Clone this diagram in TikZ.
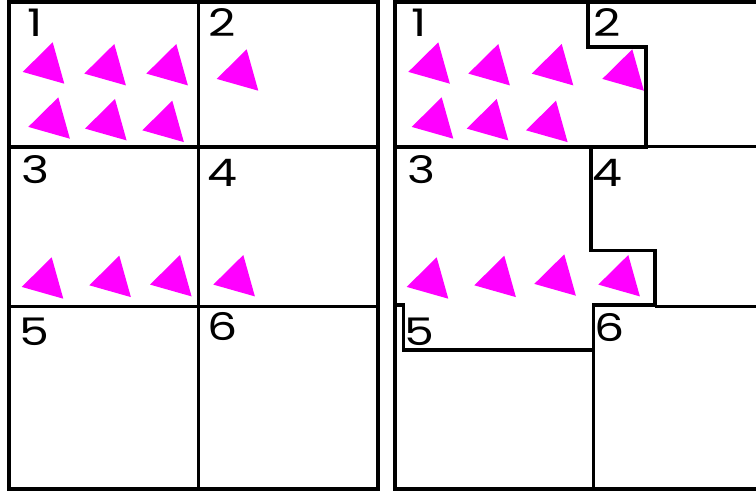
\documentclass[tikz,border=0pt]{standalone}
\usepackage{fontspec}
\newfontfamily\labfont{Poppins}
\definecolor{mag}{HTML}{FF00FF}
\tikzset{
  outerln/.style={line width=4pt, line cap=rect, line join=miter},
  innerln/.style={line width=3.5pt, line join=miter},
  thinln/.style={line width=3pt},
  lab/.style={anchor=base west, inner sep=0pt, font=\labfont\fontsize{38}{38}\selectfont, xscale=1.25, text=black},
}
\newcommand{\tri}[2]{\fill[mag] (#1,#2) -- ++(-30,29.6) -- ++(41.6,11.8) -- cycle;}
\begin{document}
\begin{tikzpicture}[x=1pt,y=-1pt]
\useasboundingbox (0,0) rectangle (756,491);
\fill[white] (0,0) rectangle (756,491);
% ---------- left panel ----------
\draw[innerln] (198.5,1.7) -- (198.5,488.7);
\draw[innerln] (8.5,147) -- (378,147);
\draw[innerln] (8.5,306.5) -- (378,306.5);
\draw[outerln] (8.5,1.7) rectangle (378,488.7);
\node[lab] (L1) at (27,36) {1};
\node[lab] (L2) at (208,36.5) {2};
\node[lab] (L3) at (21,183) {3};
\node[lab] (L4) at (207,186.5) {4};
\node[lab] (L5) at (19,345) {5};
\node[lab] (L6) at (207,340) {6};
\tri{52.7}{42.3}\tri{114.3}{44}\tri{176.3}{44}\tri{246.7}{49.3}
\tri{58.3}{97.3}\tri{115}{99}\tri{172.3}{100.7}
\tri{51.7}{257.3}\tri{119.3}{255.7}\tri{180}{255}\tri{243.3}{255}
% ---------- right panel ----------
\draw[outerln, line cap=butt] (757,1.7) -- (394.5,1.7) -- (394.5,488.7) -- (757,488.7);
\draw[innerln] (588,1.7) -- (588,47) -- (646,47) -- (646,148.5);
\draw[innerln] (394.5,147) -- (647.5,147);
\draw[thinln] (646,146.7) -- (757,146.7);
\draw[innerln] (591,147) -- (591,250.5) -- (655,250.5) -- (655,305);
\draw[line width=4.2pt] (592,305) -- (656.7,305);
\draw[thinln] (655,306.5) -- (757,306.5);
\draw[innerln] (394.5,305) -- (403.3,305) -- (403.3,350) -- (593.5,350);
\draw[thinln] (593.5,303) -- (593.5,488.7);
\node[lab] (R1) at (411,36) {1};
\node[lab] (R2) at (593,36) {2};
\node[lab] (R3) at (407,183) {3};
\node[lab] (R4) at (592,186) {4};
\node[lab] (R5) at (404,345) {5};
\node[lab] (R6) at (594,341) {6};
\tri{438.3}{42.3}\tri{498.3}{44}\tri{561.7}{44}\tri{632.3}{49.3}
\tri{441.7}{97.3}\tri{496.7}{99}\tri{556}{100.7}
\tri{436.7}{257.3}\tri{504.3}{255.7}\tri{564.3}{254.3}\tri{628.3}{255}
\end{tikzpicture}
\end{document}
